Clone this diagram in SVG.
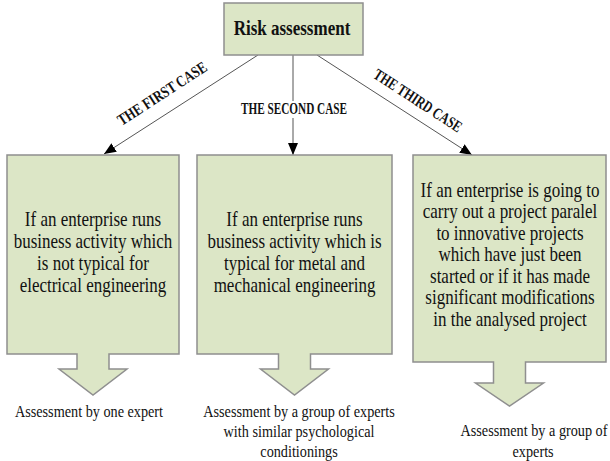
<svg xmlns="http://www.w3.org/2000/svg" width="610" height="461" viewBox="0 0 610 461">
<style>
.shape{fill:#dce6c6;stroke:#8f8f8f;stroke-width:1.5}
.body{font-family:"Liberation Serif","Times New Roman",serif;font-size:20px;fill:#111;text-anchor:middle}
.title{font-family:"Liberation Serif","Times New Roman",serif;font-size:21px;font-weight:bold;fill:#111;text-anchor:middle}
.lbl{font-family:"Liberation Serif","Times New Roman",serif;font-size:16px;font-weight:bold;fill:#111;text-anchor:middle}
.out{font-family:"Liberation Serif","Times New Roman",serif;font-size:16px;fill:#111;text-anchor:middle}
.conn{stroke:#555;stroke-width:1;fill:none}
</style>
<defs>
<marker id="ah" viewBox="0 0 12 10" refX="12" refY="5" markerWidth="12" markerHeight="10" markerUnits="userSpaceOnUse" orient="auto">
<path d="M0,0 L12,5 L0,10 Z" fill="#000"/>
</marker>
</defs>
<rect width="610" height="461" fill="#fff"/>

<g id="connectors">
<line class="conn" x1="258" y1="55" x2="104" y2="154" marker-end="url(#ah)"/>
<line class="conn" x1="293" y1="55" x2="293" y2="155" marker-end="url(#ah)"/>
<line class="conn" x1="317" y1="55" x2="472" y2="155" marker-end="url(#ah)"/>
<rect x="239" y="101" width="110" height="17" fill="#fff"/>
<text class="lbl" transform="translate(165,98) rotate(-33)" x="0" y="0" textLength="103" lengthAdjust="spacingAndGlyphs">THE FIRST CASE</text>
<text class="lbl" x="294" y="114" textLength="106" lengthAdjust="spacingAndGlyphs">THE SECOND CASE</text>
<text class="lbl" transform="translate(415,105) rotate(33)" x="0" y="0" textLength="102" lengthAdjust="spacingAndGlyphs">THE THIRD CASE</text>
</g>

<g id="risk">
<rect class="shape" x="224" y="3" width="139" height="52"/>
<g transform="scale(0.81,1)"><text class="title" x="360.5" y="35">Risk assessment</text></g>
</g>

<g id="case1">
<path class="shape" d="M7,155 H179 V354 H109 V369 H127 L93,395 L59,369 H77 V354 H7 Z"/>
<g transform="scale(0.85,1)">
<text class="body" x="109.4" y="226">If an enterprise runs</text>
<text class="body" x="109.4" y="248">business activity which</text>
<text class="body" x="109.4" y="270">is not typical for</text>
<text class="body" x="109.4" y="292">electrical engineering</text>
</g>
</g>

<g id="case2">
<path class="shape" d="M197,155 H392 V354 H310.5 V369 H328.5 L294.5,395 L260.5,369 H278.5 V354 H197 Z"/>
<g transform="scale(0.85,1)">
<text class="body" x="346.5" y="226">If an enterprise runs</text>
<text class="body" x="346.5" y="248">business activity which is</text>
<text class="body" x="346.5" y="270">typical for metal and</text>
<text class="body" x="346.5" y="292">mechanical engineering</text>
</g>
</g>

<g id="case3">
<path class="shape" d="M413,155 H606 V362 H525.5 V383 H543.5 L509.5,406 L475.5,383 H493.5 V362 H413 Z"/>
<g transform="scale(0.85,1)">
<text class="body" x="600" y="197">If an enterprise is going to</text>
<text class="body" x="600" y="218.5">carry out a project paralel</text>
<text class="body" x="600" y="240">to innovative projects</text>
<text class="body" x="600" y="261.5">which have just been</text>
<text class="body" x="600" y="283">started or if it has made</text>
<text class="body" x="600" y="304.5">significant modifications</text>
<text class="body" x="600" y="326">in the analysed project</text>
</g>
</g>

<g id="result1">
<g transform="scale(0.89,1)"><text class="out" x="100" y="417">Assessment by one expert</text></g>
</g>
<g id="result2">
<g transform="scale(0.89,1)">
<text class="out" x="336" y="417">Assessment by a group of experts</text>
<text class="out" x="336" y="437">with similar psychological</text>
<text class="out" x="336" y="457">conditionings</text>
</g>
</g>
<g id="result3">
<g transform="scale(0.89,1)">
<text class="out" x="600" y="436">Assessment by a group of</text>
<text class="out" x="599" y="457">experts</text>
</g>
</g>
</svg>
